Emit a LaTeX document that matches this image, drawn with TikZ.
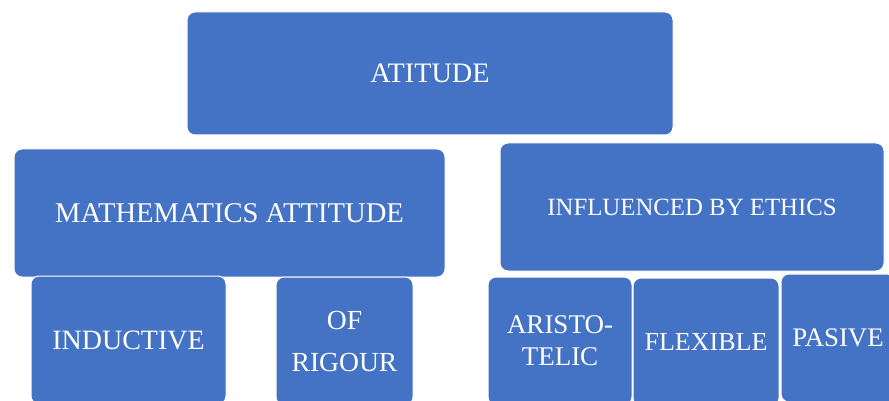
\documentclass[tikz,border=0pt]{standalone}
\usepackage{fontspec}
\setmainfont{Liberation Serif}
\definecolor{boxblue}{HTML}{4472C4}
\begin{document}
\begin{tikzpicture}[x=1pt,y=-1pt,
  cbox/.style={rectangle, rounded corners=8pt, fill=boxblue, draw=white, line width=1pt,
    text=white, align=center, inner sep=0pt},
  fs/.style={font=\fontsize{#1}{#1}\selectfont}]
\useasboundingbox (0,0) rectangle (889,401);
\clip (0,0) rectangle (889,401);
\node[cbox, minimum width=486pt, minimum height=123pt, fs=28.2] (top) at (430,73.5) {ATITUDE};
\node[cbox, minimum width=431pt, minimum height=128pt, fs=28.6] (math) at (229.5,213) {MATHEMATICS ATTITUDE};
\node[cbox, minimum width=384pt, minimum height=128pt, fs=24.8] (ethics) at (692,207) {INFLUENCED BY ETHICS};
\node[cbox, minimum width=195pt, minimum height=128pt, fs=28] (ind) at (128.5,340) {INDUCTIVE};
\node[cbox, minimum width=137pt, minimum height=128pt, font=\fontsize{27.6}{42}\selectfont] (rig) at (344.5,341) {OF\\RIGOUR};
\node[cbox, minimum width=144pt, minimum height=128pt, font=\fontsize{27}{32}\selectfont] (ari) at (560,341) {ARISTO-\\TELIC};
\node[cbox, minimum width=146pt, minimum height=128pt, fs=26] (flex) at (706,342) {FLEXIBLE};
\node[cbox, minimum width=114pt, minimum height=128pt, fs=26.8] (pas) at (838,338) {PASIVE};
\end{tikzpicture}
\end{document}
